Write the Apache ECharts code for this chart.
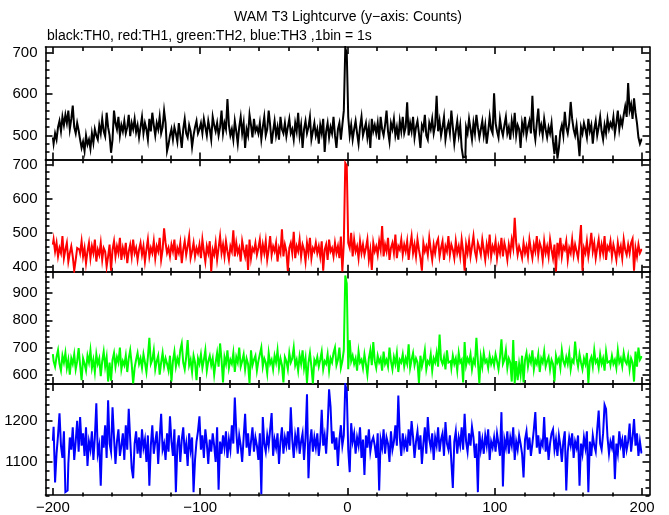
<!DOCTYPE html>
<html>
<head>
<meta charset="utf-8">
<script src="https://cdn.jsdelivr.net/npm/echarts@6/dist/echarts.min.js"></script>
<style>html,body{margin:0;padding:0;background:#fff}#c{width:669px;height:515px}</style>
</head>
<body>
<div id="c"></div>
<script>
// time bins: 1 s each, from -200 s to +200 s
const binStart = -200;
const binWidth = 1;

// TH0 (black) counts per bin
const th0 = [
495,480,505,490,520,535,510,545,525,550,530,560,515,540,572,520,505,530,512,490,
470,485,462,500,478,490,468,505,482,515,500,490,525,505,540,510,498,555,520,500,
458,490,560,530,515,545,500,525,510,535,505,520,550,498,530,515,540,508,525,495,
520,545,505,530,515,490,540,510,555,525,500,530,515,545,505,520,560,530,462,478,
500,515,490,520,505,485,530,500,470,515,540,505,495,525,510,472,500,520,535,505,
515,530,505,540,520,500,535,515,490,545,525,510,530,500,520,560,505,530,515,588,
525,500,515,490,535,510,480,520,545,505,530,470,515,500,550,525,495,540,510,520,
505,530,490,520,545,500,515,560,525,480,510,535,500,520,490,545,515,505,530,498,
520,540,505,515,490,530,510,555,500,525,470,515,535,505,520,545,490,510,530,500,
515,480,525,505,540,460,510,530,495,520,505,545,500,470,515,530,490,525,560,712,
700,545,500,525,490,515,535,505,480,520,545,500,515,530,495,520,470,540,510,525,
505,530,490,545,515,500,525,560,510,485,530,515,540,500,520,490,535,510,545,505,
520,580,500,530,510,545,495,520,535,505,470,525,515,550,500,490,530,515,540,505,
525,596,510,535,500,520,545,490,515,530,505,560,520,480,510,535,500,525,470,446,
448,520,505,540,515,490,530,505,550,520,495,515,535,500,525,480,510,545,515,505,
602,530,510,495,540,515,500,525,545,505,520,490,535,510,555,500,525,515,470,530,
510,545,500,520,535,505,596,515,490,530,565,510,525,500,540,515,495,520,505,530,
485,455,500,444,470,510,525,500,557,520,505,530,581,540,515,500,525,490,450,520,
505,530,515,495,540,510,525,480,515,535,500,520,545,510,490,525,505,540,515,530,
520,545,505,530,560,515,540,525,550,570,545,627,560,575,540,590,555,530,495,480,490
];

// TH1 (red) counts per bin
const th1 = [
465,480,445,470,430,455,440,490,425,450,470,415,440,460,430,388,420,455,450,440,
475,430,455,410,445,470,425,460,440,480,415,450,435,470,420,455,445,400,430,465,
388,450,475,430,460,440,485,420,455,435,470,410,445,465,430,480,440,455,420,450,
470,435,460,415,450,480,430,455,440,475,425,460,445,485,420,450,513,470,440,455,
430,465,445,480,420,455,440,470,410,450,475,435,460,490,425,445,470,430,455,440,
465,425,480,445,415,460,440,475,386,450,435,470,420,455,490,440,465,430,475,445,
420,460,445,507,430,470,440,455,415,475,450,430,465,390,480,425,455,445,470,435,
455,480,430,465,440,475,420,450,490,435,460,445,470,415,455,440,510,430,465,445,
387,455,470,440,503,425,460,445,480,430,465,450,415,470,440,485,425,455,445,470,
440,460,430,475,388,450,465,420,480,445,455,430,470,440,460,425,489,386,470,706,
698,470,455,500,430,480,445,460,425,475,440,465,435,455,480,420,450,390,470,445,
460,435,475,450,520,430,465,445,485,420,455,470,440,495,425,460,450,480,435,465,
445,475,420,460,490,440,465,430,480,450,425,388,470,445,460,435,485,450,420,465,
440,470,482,430,455,475,420,460,445,490,435,465,450,425,475,440,460,430,480,445,
388,465,440,475,430,460,490,445,425,470,455,435,480,450,420,465,440,495,430,460,
445,475,425,460,440,485,430,470,450,420,465,440,480,455,544,470,435,460,445,425,
470,440,460,430,480,450,425,465,445,490,435,470,455,420,475,440,460,430,480,450,
425,465,386,470,440,485,430,460,450,475,420,455,440,480,435,465,445,425,470,523,
388,455,440,475,430,460,500,445,470,425,455,480,435,465,440,490,420,460,450,475,
430,465,445,420,470,440,460,425,480,450,435,465,440,470,482,388,455,430,465,440,450
];

// TH2 (green) counts per bin
const th2 = [
676,650,630,665,690,640,615,670,645,680,625,655,600,660,640,675,620,650,698,635,
580,660,640,615,670,645,690,625,655,610,675,640,660,595,650,685,630,665,575,645,
578,655,680,630,665,645,700,620,650,635,670,610,660,690,640,568,625,655,680,640,
660,625,675,645,610,665,736,640,655,690,620,650,670,600,645,680,630,660,640,615,
670,575,650,685,630,660,640,690,715,645,620,665,727,635,655,610,670,645,580,660,
640,675,625,655,690,615,650,670,635,660,600,645,680,630,715,655,572,665,640,690,
625,655,640,680,610,665,645,700,630,650,675,620,660,640,568,690,635,655,670,615,
650,675,700,630,660,645,605,680,640,655,620,670,645,690,625,660,635,572,665,650,
620,680,645,660,700,635,655,615,670,640,690,625,660,570,645,680,630,568,655,640,
665,630,655,685,620,650,640,675,615,660,645,680,700,635,655,700,625,650,690,965,
935,620,727,650,670,640,660,615,685,645,655,625,675,640,600,660,690,635,720,650,
625,670,645,660,615,685,640,655,630,700,650,620,665,640,680,610,655,645,675,630,
660,640,712,625,655,680,635,660,645,570,670,630,655,690,620,650,640,675,615,660,
645,680,630,748,655,640,665,620,690,645,650,625,670,640,660,615,680,645,655,572,
720,635,660,645,675,620,655,640,736,650,568,665,630,680,645,655,625,670,640,660,
635,675,650,620,665,730,640,655,690,625,660,645,575,728,568,650,580,640,600,670,
572,655,680,630,665,645,690,620,655,640,675,610,660,645,685,630,650,665,620,655,
640,575,670,645,660,625,690,650,635,665,640,680,620,655,645,722,660,630,675,645,
620,660,640,680,570,650,665,630,690,645,655,625,675,640,660,615,685,645,650,635,
670,640,655,625,690,645,660,630,680,650,640,670,620,660,645,575,685,630,700,655,665
];

// TH3 (blue) counts per bin
const th3 = [
1152,1186,1050,1120,1165,1219,1140,1110,1175,1026,1030,1095,1160,1130,1185,1105,1150,1201,1125,1210,
1140,1170,1115,1185,1090,1150,1130,1175,1105,1160,1244,1120,1140,1042,1165,1135,1190,1110,1251,1145,
1125,1234,1160,1095,1150,1180,1115,1140,1170,1105,1190,1130,1230,1155,1085,1060,1145,1175,1120,1160,
1110,1180,1135,1155,1100,1165,1042,1140,1190,1120,1150,1175,1095,1160,1218,1130,1145,1105,1170,1125,
1212,1150,1115,1180,1026,1140,1165,1100,1155,1185,1120,1145,1090,1170,1130,1160,1026,1105,1150,1175,
1212,1130,1165,1110,1180,1145,1095,1155,1125,1170,1140,1100,1185,1032,1150,1120,1165,1135,1175,1110,
1155,1130,1190,1145,1258,1175,1120,1165,1140,1100,1160,1218,1135,1170,1115,1150,1185,1125,1160,1140,
1105,1170,1021,1210,1145,1125,1165,1140,1180,1220,1115,1155,1135,1170,1095,1150,1185,1120,1160,1140,
1175,1130,1234,1155,1110,1165,1140,1185,1120,1150,1170,1105,1160,1266,1060,1145,1180,1125,1160,1135,
1170,1115,1150,1228,1140,1165,1120,1185,1278,1235,1145,1175,1130,1160,1090,1155,1190,1140,1165,1290,
1275,1130,1075,1195,1150,1170,1120,1160,1140,1185,1110,1155,1068,1165,1135,1180,1125,1150,1160,1140,
1110,1170,1030,1155,1135,1180,1120,1160,1145,1100,1175,1130,1150,1190,1140,1263,1160,1115,1170,1135,
1155,1125,1180,1140,1200,1160,1110,1150,1175,1130,1165,1095,1145,1185,1120,1210,1155,1135,1170,1105,
1160,1140,1185,1125,1155,1170,1115,1198,1145,1130,1165,1100,1036,1150,1175,1120,1160,1140,1185,1130,
1218,1150,1125,1170,1140,1186,1160,1110,1145,1026,1175,1130,1155,1120,1165,1140,1180,1105,1150,1135,
1160,1125,1170,1145,1115,1222,1040,1155,1135,1175,1120,1160,1140,1185,1105,1150,1130,1165,1145,1120,
1062,1155,1175,1130,1160,1115,1145,1180,1222,1135,1165,1120,1150,1140,1210,1125,1160,1105,1145,1170,
1180,1130,1155,1115,1165,1140,1100,1150,1175,1030,1125,1160,1140,1170,1110,1150,1135,1165,1042,1145,
1120,1160,1135,1175,1026,1150,1115,1165,1140,1125,1180,1226,1145,1130,1170,1240,1230,1160,1120,1150,
1135,1165,1058,1145,1120,1175,1140,1155,1110,1165,1130,1150,1194,1125,1160,1205,1140,1170,1115,1150,1123
];

// axis tick labels
const xTickLabels = [-200, -100, 0, 100, 200];
const yTickLabels = [
  [500, 600, 700],
  [400, 500, 600, 700],
  [600, 700, 800, 900],
  [1100, 1200]
];
const yRanges = [[442, 714], [385, 717], [566, 979], [1019, 1291]];
const xRange = [-205, 205];

const seriesData = [th0, th1, th2, th3];
const colors = ['#000000', '#ff0000', '#00ff00', '#0000ff'];

const tops = [47, 159.3, 271.6, 384];
const H = 112.4;
const L = 45.5, W = 604;
const FONT = 'Liberation Sans';

function minors(lo, hi, step, majors) {
  const out = [];
  for (let v = Math.ceil(lo / step) * step; v <= hi; v += step) {
    if (majors.indexOf(v) < 0) out.push(v);
  }
  return out;
}
const fmt = v => String(v).replace('-', '\u2212');

const grids = [], xAxes = [], yAxes = [], series = [];
for (let p = 0; p < 4; p++) {
  for (let m = 0; m < 2; m++) {
    const g = p * 2 + m;
    grids.push({ left: L, width: W, top: tops[p], height: H });
    const major = m === 0;
    const xVals = major ? xTickLabels : minors(xRange[0], xRange[1], 20, xTickLabels);
    const yVals = major ? yTickLabels[p] : minors(yRanges[p][0], yRanges[p][1], 20, yTickLabels[p]);
    ['bottom', 'top'].forEach(pos => {
      xAxes.push({
        type: 'value', gridIndex: g, position: pos,
        min: xRange[0], max: xRange[1],
        axisLine: { show: major, onZero: false, lineStyle: { color: '#000', width: 1.6 } },
        axisTick: { show: true, inside: true, length: major ? 7 : 4, customValues: xVals,
                    lineStyle: { color: '#000', width: 1.6 } },
        axisLabel: { show: major && p === 3 && pos === 'bottom', customValues: xTickLabels,
                     formatter: fmt, color: '#000', fontFamily: FONT, fontSize: 15, margin: 5 },
        splitLine: { show: false }
      });
    });
    ['left', 'right'].forEach(pos => {
      yAxes.push({
        type: 'value', gridIndex: g, position: pos,
        min: yRanges[p][0], max: yRanges[p][1],
        axisLine: { show: major, onZero: false, lineStyle: { color: '#000', width: 1.6 } },
        axisTick: { show: true, inside: true, length: major ? 7 : 4, customValues: yVals,
                    lineStyle: { color: '#000', width: 1.6 } },
        axisLabel: { show: major && pos === 'left', customValues: yTickLabels[p],
                     formatter: fmt, color: '#000', fontFamily: FONT, fontSize: 15, margin: 8 },
        splitLine: { show: false }
      });
    });
  }
  const arr = seriesData[p];
  series.push({
    type: 'line', step: 'middle', showSymbol: false, symbol: 'none',
    xAxisIndex: p * 4, yAxisIndex: p * 4,
    data: arr.map((v, i) => [binStart + i * binWidth, v]),
    lineStyle: { color: colors[p], width: 2, join: 'miter', cap: 'butt' },
    itemStyle: { color: colors[p] },
    clip: true, silent: true, z: 1
  });
}

const chart = echarts.init(document.getElementById('c'), null, { renderer: 'canvas' });
chart.setOption({
  backgroundColor: '#ffffff',
  animation: false,
  grid: grids,
  xAxis: xAxes,
  yAxis: yAxes,
  series: series,
  graphic: [
    { type: 'text', x: 348, y: 17,
      style: { text: 'WAM T3 Lightcurve (y\u2212axis: Counts)', textAlign: 'center', textVerticalAlign: 'middle',
               font: '14px "Liberation Sans"', fill: '#000' } },
    { type: 'text', x: 47, y: 36,
      style: { text: 'black:TH0, red:TH1, green:TH2, blue:TH3 ,1bin = 1s', textAlign: 'left', textVerticalAlign: 'middle',
               font: '14px "Liberation Sans"', fill: '#000' } }
  ]
});
</script>
</body>
</html>
